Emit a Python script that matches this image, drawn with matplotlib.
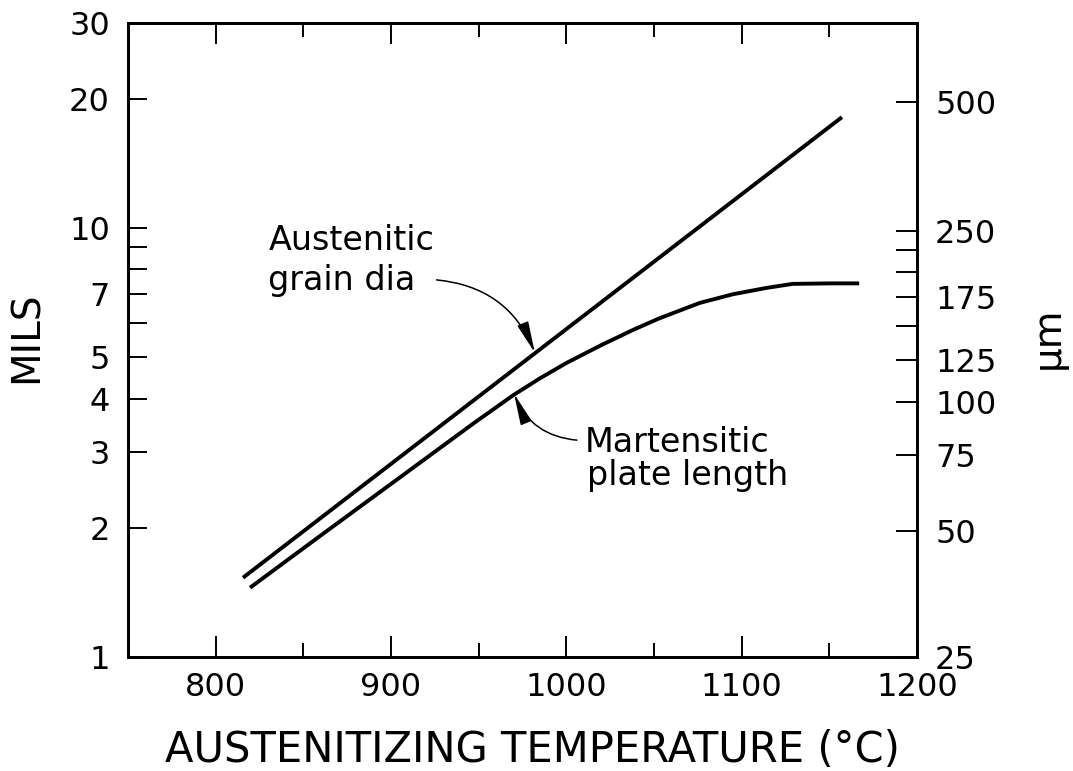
import matplotlib
matplotlib.use("Agg")
import matplotlib.pyplot as plt
from matplotlib.ticker import FixedLocator, FixedFormatter, NullLocator
from matplotlib.patches import ArrowStyle

# austenitic grain diameter (mils) vs austenitizing temperature (C)
grain_temp = [815.6, 1157.2]
grain_mils = [1.53, 18.1]

# martensitic plate length (mils)
plate_temp = [819.6, 860, 900, 947, 970, 985, 1000, 1020, 1038, 1053, 1076, 1095, 1114, 1129, 1150, 1167]
plate_mils = [1.45, 1.92, 2.53, 3.50, 4.08, 4.46, 4.84, 5.33, 5.78, 6.15, 6.68, 7.00, 7.24, 7.40, 7.42, 7.42]

x_major = [800, 900, 1000, 1100, 1200]
x_minor = [850, 950, 1050, 1150]
mil_ticks = [1, 2, 3, 4, 5, 6, 7, 8, 9, 10, 20, 30]
mil_labels = ['1', '2', '3', '4', '5', '', '7', '', '', '10', '20', '30']
um_ticks = [25.4, 50, 75, 100, 125, 150, 175, 200, 225, 250, 500]
um_labels = ['25', '50', '75', '100', '125', '', '175', '', '', '250', '500']

MIL_TO_UM = 25.4
YMIN, YMAX = 1, 30

plt.rcParams['font.family'] = ['DejaVu Sans']

fig = plt.figure(figsize=(10.73, 7.71), dpi=100)
ax = fig.add_axes([0.1193, 0.1479, 0.7353, 0.8223])

ax.plot(grain_temp, grain_mils, color='black', lw=2.8, solid_capstyle='butt')
ax.plot(plate_temp, plate_mils, color='black', lw=2.8, solid_capstyle='butt',
        solid_joinstyle='round')

ax.set_xlim(750, 1200)
ax.set_yscale('log')
ax.set_ylim(YMIN, YMAX)

for s in ax.spines.values():
    s.set_linewidth(2.0)

ax.xaxis.set_major_locator(FixedLocator(x_major))
ax.xaxis.set_minor_locator(FixedLocator(x_minor))
ax.yaxis.set_major_locator(FixedLocator(mil_ticks))
ax.yaxis.set_major_formatter(FixedFormatter(mil_labels))
ax.yaxis.set_minor_locator(NullLocator())

ax.tick_params(axis='x', which='major', direction='in', top=True, length=15, width=1.4,
               pad=11, labelsize=23)
ax.tick_params(axis='x', which='minor', direction='in', top=True, length=10, width=1.4)
ax.tick_params(axis='y', which='major', direction='in', right=False, length=14, width=1.4,
               pad=13, labelsize=23)

# second scale in micrometres
ax2 = ax.twinx()
ax2.set_yscale('log')
ax2.set_ylim(YMIN * MIL_TO_UM, YMAX * MIL_TO_UM)
ax2.yaxis.set_major_locator(FixedLocator(um_ticks))
ax2.yaxis.set_major_formatter(FixedFormatter(um_labels))
ax2.yaxis.set_minor_locator(NullLocator())
ax2.tick_params(axis='y', which='major', direction='in', length=15, width=1.4,
                pad=13, labelsize=23)
for s in ax2.spines.values():
    s.set_linewidth(2.0)

# curve labels with leader arrows
txt = dict(fontsize=24, color='black')
ax.text(830, 8.88, 'Austenitic', va='baseline', ha='left', **txt)
ax.text(830, 7.16, 'grain dia', va='baseline', ha='left', **txt)
ax.text(1010.6, 3.00, 'Martensitic', va='baseline', ha='left', **txt)
ax.text(1011.8, 2.52, 'plate length', va='baseline', ha='left', **txt)

head = ArrowStyle('-|>', head_length=1.6, head_width=0.3)
ax.annotate('', xy=(982, 5.12), xytext=(926, 7.56),
            arrowprops=dict(arrowstyle=head, mutation_scale=12, lw=1.1, color='black',
                            shrinkA=0, shrinkB=0, connectionstyle='arc3,rad=-0.3'))
ax.annotate('', xy=(970.2, 4.10), xytext=(1006, 3.20),
            arrowprops=dict(arrowstyle=head, mutation_scale=12, lw=1.1, color='black',
                            shrinkA=0, shrinkB=0, connectionstyle='arc3,rad=-0.3'))

fig.text(532 / 1073, 1 - 762 / 771, 'AUSTENITIZING TEMPERATURE (°C)',
         ha='center', va='baseline', fontsize=30)
fig.text(27 / 1073, 1 - 337 / 771, 'MILS', rotation=90, ha='center', va='center', fontsize=28)
fig.text(1048 / 1073, 1 - 338 / 771, 'µm', rotation=90, ha='center', va='center', fontsize=28)

fig.savefig('out.png', dpi=100, facecolor='white')
